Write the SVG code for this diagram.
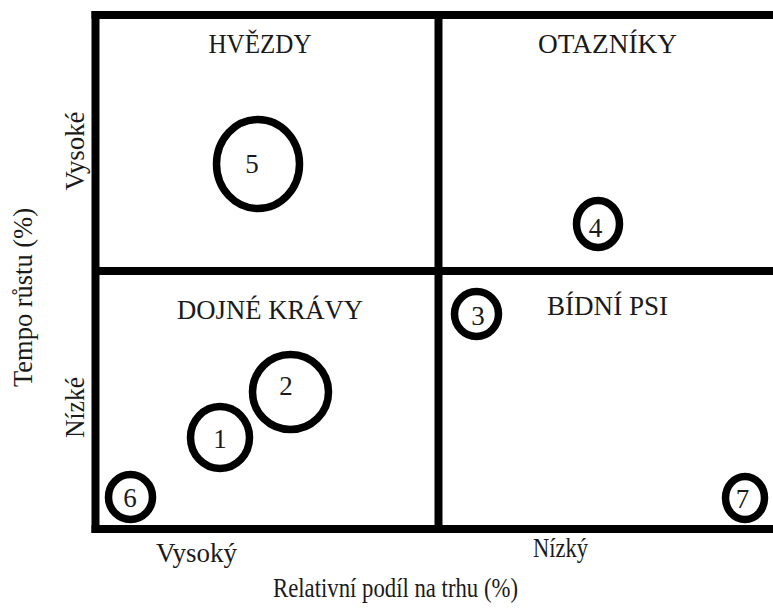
<svg xmlns="http://www.w3.org/2000/svg" width="773" height="608" viewBox="0 0 773 608">
<style>
  .frame { stroke: #000; stroke-width: 8; fill: none; }
  .bub { stroke: #000; stroke-width: 7.5; fill: #fff; }
  text { font-family: "Liberation Serif", "Times New Roman", serif; font-size: 27px; fill: #1a1a1a; }
  .c { text-anchor: middle; }
</style>
<rect width="773" height="608" fill="#fff"/>
<g id="connectors">
  <line class="frame" x1="91.5" y1="15" x2="773" y2="15"/>
  <line class="frame" x1="91.5" y1="529" x2="773" y2="529"/>
  <line class="frame" x1="95.5" y1="11" x2="95.5" y2="533"/>
  <line class="frame" x1="438.5" y1="11" x2="438.5" y2="533"/>
  <line class="frame" x1="95.5" y1="271" x2="773" y2="271"/>
</g>
<g id="quadrant-labels">
  <text id="lbl-hvezdy" class="c" x="260" y="53" textLength="103" lengthAdjust="spacingAndGlyphs">HVĚZDY</text>
  <text id="lbl-otazniky" class="c" x="607.5" y="53" textLength="139" lengthAdjust="spacingAndGlyphs">OTAZNÍKY</text>
  <text id="lbl-dojne" class="c" x="270" y="319" textLength="186" lengthAdjust="spacingAndGlyphs">DOJNÉ KRÁVY</text>
  <text id="lbl-bidni" class="c" x="607.5" y="315" textLength="121" lengthAdjust="spacingAndGlyphs">BÍDNÍ PSI</text>
</g>
<g id="node-5"><ellipse class="bub" cx="258" cy="164" rx="41.5" ry="44.5"/><text class="c" x="252" y="173">5</text></g>
<g id="node-4"><ellipse class="bub" cx="598" cy="224" rx="21.5" ry="23.5"/><text class="c" x="595.5" y="237">4</text></g>
<g id="node-3"><ellipse class="bub" cx="476.5" cy="314" rx="22" ry="22.5"/><text class="c" x="478" y="325">3</text></g>
<g id="node-7"><ellipse class="bub" cx="745" cy="498" rx="19.5" ry="21.5"/><text class="c" x="742.5" y="508">7</text></g>
<g id="node-2"><ellipse class="bub" cx="290.5" cy="392" rx="38" ry="37.5"/><text class="c" x="286" y="395">2</text></g>
<g id="node-1"><ellipse class="bub" cx="220" cy="437.5" rx="29.5" ry="31"/><text class="c" x="220" y="448">1</text></g>
<g id="node-6"><ellipse class="bub" cx="130.5" cy="497" rx="22" ry="22.5"/><text class="c" x="130" y="507">6</text></g>
<g id="axis-labels">
  <text class="c" transform="translate(84,151) rotate(-90)" textLength="79" lengthAdjust="spacingAndGlyphs">Vysoké</text>
  <text class="c" transform="translate(84,407.5) rotate(-90)" textLength="61" lengthAdjust="spacingAndGlyphs">Nízké</text>
  <text class="c" transform="translate(32,297.5) rotate(-90)" textLength="179" lengthAdjust="spacingAndGlyphs">Tempo růstu (%)</text>
  <text class="c" x="196.5" y="562" textLength="81" lengthAdjust="spacingAndGlyphs">Vysoký</text>
  <text class="c" x="560.5" y="557" textLength="55" lengthAdjust="spacingAndGlyphs">Nízký</text>
  <text class="c" x="395.5" y="597" textLength="245" lengthAdjust="spacingAndGlyphs">Relativní podíl na trhu (%)</text>
</g>
</svg>
